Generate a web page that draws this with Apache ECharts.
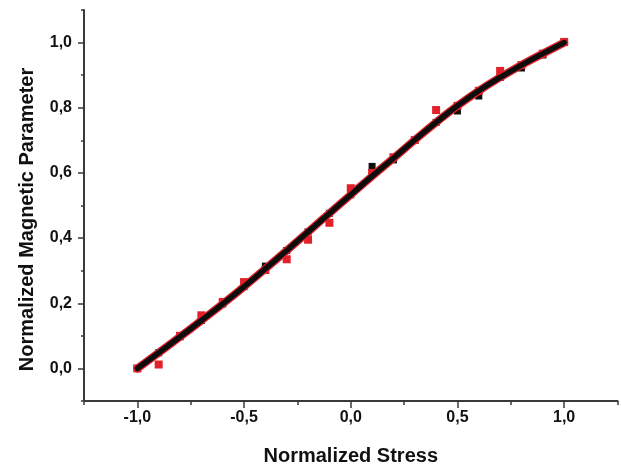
<!DOCTYPE html>
<html>
<head>
<meta charset="utf-8">
<title>Normalized Magnetic Parameter vs Normalized Stress</title>
<script src="https://cdn.jsdelivr.net/npm/echarts@6/dist/echarts.min.js"></script>
<style>
  html, body { margin: 0; padding: 0; background: #ffffff; }
  #chart { width: 621px; height: 467px; }
</style>
</head>
<body>
<div id="chart"></div>
<script>
// Normalized stress sample positions
const stress = [-1.0, -0.9, -0.8, -0.7, -0.6, -0.5, -0.4, -0.3, -0.2, -0.1, 0.0,
                0.1, 0.2, 0.3, 0.4, 0.5, 0.6, 0.7, 0.8, 0.9, 1.0];

// Measured parameter, first data set (red squares)
const redMeasured = [0.000, 0.012, 0.100, 0.163, 0.204, 0.265, 0.302, 0.335, 0.395, 0.447, 0.553,
                     0.600, 0.648, 0.701, 0.793, 0.806, 0.852, 0.913, 0.931, 0.966, 1.002];

// Measured parameter, second data set (black squares)
const blackMeasured = [0.000, 0.048, 0.097, 0.147, 0.198, 0.251, 0.314, 0.362, 0.419, 0.476, 0.533,
                       0.620, 0.640, 0.701, 0.755, 0.790, 0.836, 0.893, 0.922, 0.962, 1.000];

// Fitted curves through the two data sets
const redFit = [0.000, 0.048, 0.097, 0.147, 0.198, 0.251, 0.306, 0.362, 0.419, 0.476, 0.533,
                0.590, 0.645, 0.701, 0.755, 0.806, 0.852, 0.893, 0.931, 0.966, 1.000];
const blackFit = [0.000, 0.048, 0.097, 0.147, 0.198, 0.251, 0.306, 0.362, 0.419, 0.476, 0.533,
                  0.590, 0.645, 0.701, 0.755, 0.806, 0.852, 0.893, 0.931, 0.966, 1.000];

// Axis tick positions
const xMajorTicks = [-1.0, -0.5, 0.0, 0.5, 1.0];
const xMinorTicks = [-1.25, -0.75, -0.25, 0.25, 0.75, 1.25];
const yMajorTicks = [0.0, 0.2, 0.4, 0.6, 0.8, 1.0];
const yMinorTicks = [-0.1, 0.1, 0.3, 0.5, 0.7, 0.9, 1.1];

const zip = (xs, ys) => xs.map((x, i) => [x, ys[i]]);
const commaFmt = v => Number(v).toFixed(1).replace('.', ',');

const FONT = '"Liberation Sans", Arial, sans-serif';
const AXIS_COLOR = '#3a3a3a';
const TEXT_COLOR = '#111111';
const RED = '#e3212b';
const BLACK = '#0d0d0d';

const chart = echarts.init(document.getElementById('chart'), null, { renderer: 'canvas' });

const baseX = {
  type: 'value', min: -1.25, max: 1.25, position: 'bottom', gridIndex: 0,
  splitLine: { show: false }
};
const baseY = {
  type: 'value', min: -0.1, max: 1.1, position: 'left', gridIndex: 0,
  splitLine: { show: false }
};

chart.setOption({
  animation: false,
  backgroundColor: '#ffffff',
  grid: { left: 84, right: 3.5, top: 10, bottom: 66, containLabel: false, outerBoundsMode: 'none' },
  xAxis: [
    Object.assign({}, baseX, {
      name: 'Normalized Stress',
      nameLocation: 'middle',
      nameGap: 45,
      nameTextStyle: { fontFamily: FONT, fontWeight: 'bold', fontSize: 20, color: TEXT_COLOR },
      axisLine: { show: true, onZero: false, lineStyle: { color: AXIS_COLOR, width: 2 } },
      axisTick: { show: true, inside: false, length: 7, customValues: xMajorTicks,
                  lineStyle: { color: AXIS_COLOR, width: 1.5 } },
      axisLabel: { show: true, customValues: xMajorTicks, formatter: commaFmt, margin: 9,
                   fontFamily: FONT, fontWeight: 'bold', fontSize: 16, color: TEXT_COLOR }
    }),
    Object.assign({}, baseX, {
      axisLine: { show: false, onZero: false },
      axisTick: { show: true, inside: false, length: 4, customValues: xMinorTicks,
                  lineStyle: { color: AXIS_COLOR, width: 1.5 } },
      axisLabel: { show: false }
    })
  ],
  yAxis: [
    Object.assign({}, baseY, {
      name: 'Normalized Magnetic Parameter',
      nameLocation: 'middle',
      nameGap: 47,
      nameTextStyle: { fontFamily: FONT, fontWeight: 'bold', fontSize: 20, color: TEXT_COLOR,
                       padding: [0, 28, 0, 0] },
      axisLine: { show: true, onZero: false, lineStyle: { color: AXIS_COLOR, width: 2 } },
      axisTick: { show: true, inside: false, length: 6, customValues: yMajorTicks,
                  lineStyle: { color: AXIS_COLOR, width: 1.5 } },
      axisLabel: { show: true, customValues: yMajorTicks, formatter: commaFmt, margin: 12,
                   fontFamily: FONT, fontWeight: 'bold', fontSize: 16, color: TEXT_COLOR }
    }),
    Object.assign({}, baseY, {
      axisLine: { show: false, onZero: false },
      axisTick: { show: true, inside: false, length: 3, customValues: yMinorTicks,
                  lineStyle: { color: AXIS_COLOR, width: 1.5 } },
      axisLabel: { show: false }
    })
  ],
  series: [
    {
      name: 'Data set B', type: 'scatter', xAxisIndex: 0, yAxisIndex: 0,
      symbol: 'rect', symbolSize: 7,
      itemStyle: { color: BLACK, opacity: 1 },
      data: zip(stress, blackMeasured), z: 2
    },
    {
      name: 'Data set A', type: 'scatter', xAxisIndex: 0, yAxisIndex: 0,
      symbol: 'rect', symbolSize: 8,
      itemStyle: { color: RED, opacity: 1 },
      data: zip(stress, redMeasured), z: 3
    },
    {
      name: 'Fit A', type: 'line', xAxisIndex: 0, yAxisIndex: 0,
      smooth: 0.5, showSymbol: false,
      lineStyle: { color: RED, width: 8, cap: 'round' },
      data: zip(stress, redFit), z: 4
    },
    {
      name: 'Fit B', type: 'line', xAxisIndex: 0, yAxisIndex: 0,
      smooth: 0.5, showSymbol: false,
      lineStyle: { color: BLACK, width: 5.5, cap: 'round' },
      data: zip(stress, blackFit), z: 5
    }
  ]
});
</script>
</body>
</html>
